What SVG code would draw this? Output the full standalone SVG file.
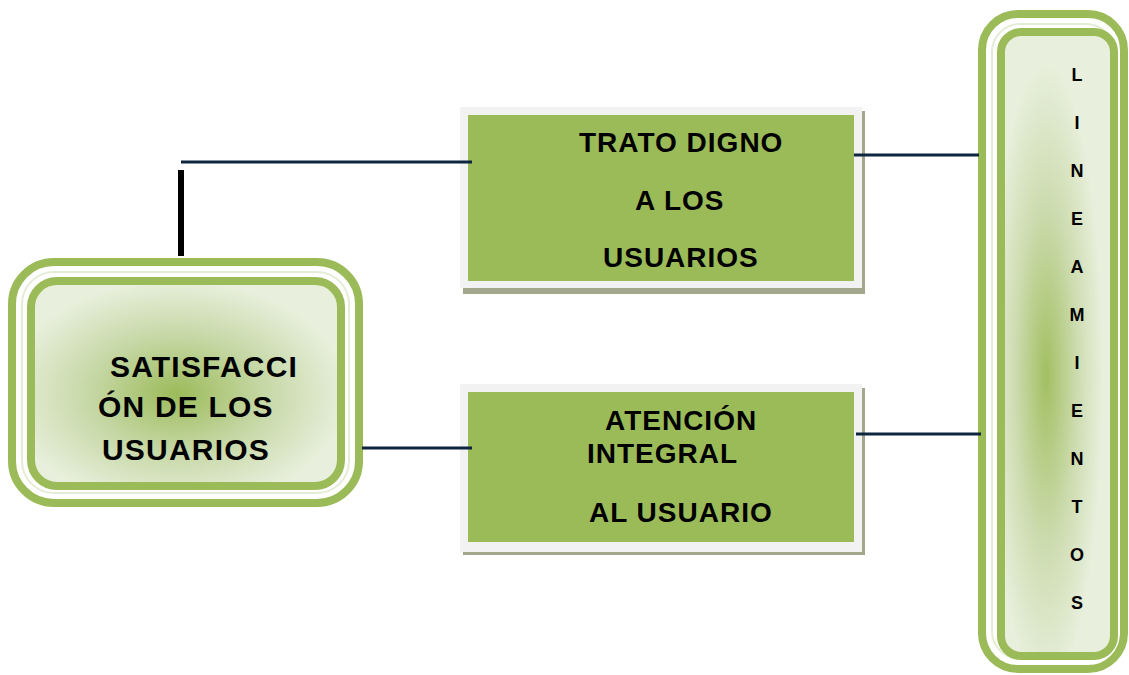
<svg xmlns="http://www.w3.org/2000/svg" width="1129" height="675" viewBox="0 0 1129 675">
<style>
.ring{fill:none;stroke:#9bbb59;stroke-width:8}
.gap{fill:none;stroke:#e4ecd6;stroke-width:2}
.t{font-family:"Liberation Sans",Arial,sans-serif;font-weight:bold;fill:#000}
.c{fill:none;stroke:#0f243e;stroke-width:3}
.box{fill:#9bbb59}
.boxbg{fill:#f2f2f2}
.shadow{fill:#a3a78c}
</style>
<defs>
<radialGradient id="gl" cx="0.47" cy="0.55" r="0.55">
<stop offset="0" stop-color="#9cbb5a"/>
<stop offset="0.5" stop-color="#c5d7a4"/>
<stop offset="1" stop-color="#e8efdc"/>
</radialGradient>
<radialGradient id="gr" cx="0.4" cy="0.55" r="0.5">
<stop offset="0" stop-color="#a2bf62"/>
<stop offset="0.55" stop-color="#cddcb0"/>
<stop offset="1" stop-color="#e8efdc"/>
</radialGradient>
</defs>
<rect width="1129" height="675" fill="#fff"/>
<g id="satisfaccion">
<rect class="ring" x="12" y="262" width="347" height="241" rx="42"/>
<rect class="gap" x="22" y="272" width="327" height="221" rx="32"/>
<rect x="31" y="281" width="310" height="205" rx="26" fill="url(#gl)" stroke="#9bbb59" stroke-width="8"/>
<text class="t" font-size="30" letter-spacing="1.2"><tspan x="110" y="377">SATISFACCI</tspan><tspan x="98" y="417">ÓN DE LOS</tspan><tspan x="102" y="460">USUARIOS</tspan></text>
</g>
<g id="trato">
<rect class="shadow" x="463" y="111" width="402" height="183"/>
<rect class="boxbg" x="460" y="107" width="402" height="181"/>
<rect class="box" x="468" y="115" width="386" height="166"/>
<text class="t" font-size="28" letter-spacing="1"><tspan x="579" y="152">TRATO DIGNO</tspan><tspan x="635" y="210">A LOS</tspan><tspan x="603" y="267">USUARIOS</tspan></text>
</g>
<g id="atencion">
<rect class="shadow" x="463" y="388" width="402" height="167"/>
<rect class="boxbg" x="460" y="384" width="402" height="168"/>
<rect class="box" x="468" y="392" width="386" height="150"/>
<text class="t" font-size="28" letter-spacing="1"><tspan x="605" y="430">ATENCIÓN</tspan><tspan x="587" y="463">INTEGRAL</tspan><tspan x="589" y="522">AL USUARIO</tspan></text>
</g>
<g id="lineamientos">
<rect class="ring" x="982" y="14" width="142" height="655" rx="36"/>
<rect class="gap" x="992" y="24" width="122" height="635" rx="28"/>
<rect x="1001" y="32" width="113" height="624" rx="20" fill="url(#gr)" stroke="#9bbb59" stroke-width="8"/>
<text class="t" font-size="18" text-anchor="middle">
<tspan x="1077" y="81">L</tspan><tspan x="1077" y="129">I</tspan><tspan x="1077" y="177">N</tspan><tspan x="1077" y="225">E</tspan><tspan x="1077" y="273">A</tspan><tspan x="1077" y="321">M</tspan><tspan x="1077" y="369">I</tspan><tspan x="1077" y="417">E</tspan><tspan x="1077" y="465">N</tspan><tspan x="1077" y="513">T</tspan><tspan x="1077" y="561">O</tspan><tspan x="1077" y="609">S</tspan>
</text>
</g>
<g id="connectors">
<line class="c" x1="181" y1="162" x2="472" y2="162"/>
<line x1="181" y1="170" x2="181" y2="256" stroke="#000" stroke-width="6"/>
<line class="c" x1="362" y1="448" x2="472" y2="448"/>
<line class="c" x1="854" y1="155" x2="979" y2="155"/>
<line class="c" x1="856" y1="434" x2="981" y2="434"/>
</g>
</svg>
